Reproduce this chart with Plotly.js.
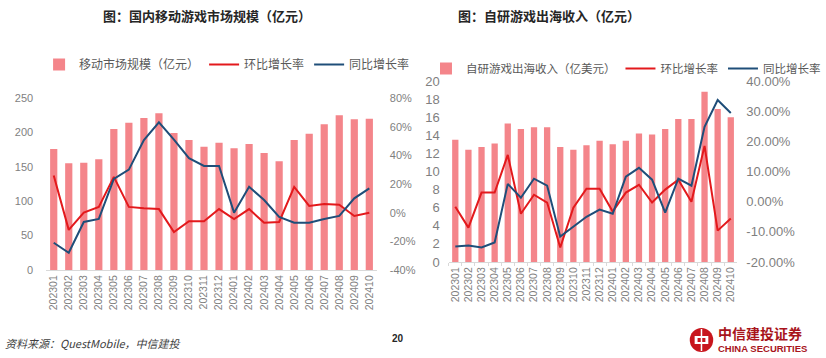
<!DOCTYPE html>
<html><head><meta charset="utf-8">
<script src="https://cdn.plot.ly/plotly-3.0.1.min.js"></script>
<style>html,body{margin:0;padding:0;background:#fff}#c{width:826px;height:358px}</style>
</head><body><div id="c"></div>
<script>
const months = ['202301','202302','202303','202304','202305','202306','202307','202308','202309','202310','202311','202312','202401','202402','202403','202404','202405','202406','202407','202408','202409','202410'];
// Left chart: domestic mobile game market (亿元), MoM %, YoY %
const marketSize = [176,155,156,161,205,214,221,228,199,189,179,185,177,183,170,158,189,198,212,225,219,220];
const marketMoM = [26,-12,0,4,25,4,3,2.5,-13.5,-6,-6,2.5,-4.4,2.5,-7,-6.5,18,4.7,6,5.5,-2.3,0];
const marketYoY = [-21,-28,-6.5,-4.4,23.5,30,50.7,63,51,38,32.6,32.6,0,18,8.8,-3,-7,-7,-4.4,-2.3,10,17];
// Right chart: self-developed games overseas revenue (亿美元), MoM %, YoY %
const overseasRev = [13.5,12.4,12.7,13.1,15.3,14.7,14.9,14.9,12.7,12.4,12.9,13.4,13.0,13.4,14.2,14.1,14.7,15.8,15.8,18.8,16.9,16.0];
const overseasMoM = [-1.7,-8.6,3,3,15.5,-4,2.3,-0.3,-15.2,-2,4.3,4.3,-3.3,3,5.6,-0.3,4,7.3,0,18.5,-9.6,-5.6];
const overseasYoY = [-14.9,-14.5,-15.2,-13.5,5.9,1.3,7.6,5.3,-11.6,-8.3,-5,-2.6,-4,8.3,11.2,7.3,-3.6,7.6,5.3,24.8,33.7,29.4];

const leftTicksPct = [-40,-20,0,20,40,60,80];
const rightTicksPct = [-20,-10,0,10,20,30,40];

const barColor = '#F4858A';
const redColor = '#E3191C';
const blueColor = '#1F4E79';
const tickFont = {family:'Liberation Sans, Arial, sans-serif', size:11, color:'#7f7f7f'};
const legFont = {family:'Noto Sans CJK SC, sans-serif', size:12, color:'#595959'};

const data = [
  {type:'bar', x:months, y:marketSize, xaxis:'x', yaxis:'y', marker:{color:barColor}, name:'移动市场规模（亿元）', legend:'legend'},
  {type:'scatter', mode:'lines', x:months, y:marketMoM, xaxis:'x', yaxis:'y2', line:{color:redColor,width:2}, name:'环比增长率', legend:'legend'},
  {type:'scatter', mode:'lines', x:months, y:marketYoY, xaxis:'x', yaxis:'y2', line:{color:blueColor,width:2}, name:'同比增长率', legend:'legend'},
  {type:'bar', x:months, y:overseasRev, xaxis:'x2', yaxis:'y3', marker:{color:barColor}, name:'自研游戏出海收入（亿美元）', legend:'legend2'},
  {type:'scatter', mode:'lines', x:months, y:overseasMoM, xaxis:'x2', yaxis:'y4', line:{color:redColor,width:2}, name:'环比增长率', legend:'legend2'},
  {type:'scatter', mode:'lines', x:months, y:overseasYoY, xaxis:'x2', yaxis:'y4', line:{color:blueColor,width:2}, name:'同比增长率', legend:'legend2'}
];

const W = 826, H = 358;
const px = v => v / W, py = v => 1 - v / H;

const xCommon = {type:'category', tickangle:-90, tickmode:'array', tickvals:months, ticktext:months,
  tickfont:{...tickFont, size:10.5}, showgrid:false, zeroline:false,
  showline:true, linecolor:'#d9d9d9', linewidth:1, ticks:'', fixedrange:true};

const layout = {
  width:W, height:H, margin:{l:0,r:0,t:0,b:0}, paper_bgcolor:'#fff', plot_bgcolor:'rgba(0,0,0,0)',
  barmode:'group', bargap:0.52, showlegend:true,
  xaxis:{...xCommon, domain:[px(47.3), px(385.7)], anchor:'y'},
  yaxis:{domain:[py(270), py(98)], range:[0,250], dtick:50, tickfont:tickFont, showgrid:false, zeroline:false, ticks:'', ticklabelstandoff:12, anchor:'x'},
  yaxis2:{overlaying:'y', side:'right', range:[-40,80], tickvals:leftTicksPct, ticktext:leftTicksPct.map(v=>v+'%'), tickfont:tickFont, showgrid:false, zeroline:false, anchor:'x', ticklabelstandoff:12},
  xaxis2:{...xCommon, domain:[px(459.3), px(754.7)], anchor:'y3', ticks:'outside', ticklen:3, tickcolor:'#d9d9d9', tickson:'boundaries', tickfont:{...tickFont, size:10.5}},
  yaxis3:{domain:[py(262), py(81)], range:[0,20], dtick:2, tickfont:{...tickFont, size:13}, showgrid:false, zeroline:false, ticks:'', anchor:'x2', ticklabelstandoff:8},
  yaxis4:{overlaying:'y3', side:'right', range:[-20,40], tickvals:rightTicksPct, ticktext:rightTicksPct.map(v=>v.toFixed(2)+'%'), tickfont:{...tickFont, size:13}, showgrid:false, zeroline:false, anchor:'x2', ticklabelstandoff:8},
  legend:{orientation:'h', x:px(40), y:py(50), xanchor:'left', yanchor:'top', font:legFont, bgcolor:'rgba(0,0,0,0)', itemwidth:30, tracegroupgap:0, traceorder:'normal'},
  legend2:{orientation:'h', x:px(436), y:py(54), xanchor:'left', yanchor:'top', font:{...legFont, size:11.5}, bgcolor:'rgba(0,0,0,0)', itemwidth:30, traceorder:'normal'},
  annotations:[
    {text:'<b>图：国内移动游戏市场规模（亿元）</b>', x:px(212), y:py(15), xref:'paper', yref:'paper', xanchor:'center', yanchor:'middle', showarrow:false, font:{family:'Noto Sans CJK SC, sans-serif', size:13, color:'#262626'}},
    {text:'<b>图：自研游戏出海收入（亿元）</b>', x:px(562), y:py(15), xref:'paper', yref:'paper', xanchor:'center', yanchor:'middle', showarrow:false, font:{family:'Noto Sans CJK SC, sans-serif', size:13, color:'#262626'}},
    {text:'<i>资料来源：QuestMobile，中信建投</i>', x:px(3), y:py(343), xref:'paper', yref:'paper', xanchor:'left', yanchor:'middle', showarrow:false, font:{family:'Noto Sans CJK SC, sans-serif', size:11, color:'#404040'}},
    {text:'<b>20</b>', x:px(407), y:py(338), xref:'paper', yref:'paper', xanchor:'center', yanchor:'middle', showarrow:false, font:{family:'Liberation Sans Narrow, Arial, sans-serif', size:10, color:'#262626'}},
    {text:'<b>中信建投证券</b>', x:px(733), y:py(333), xref:'paper', yref:'paper', xanchor:'left', yanchor:'middle', showarrow:false, font:{family:'Noto Sans CJK SC, sans-serif', size:14, color:'#a8141b'}},
    {text:'<b>CHINA SECURITIES</b>', x:px(733), y:py(348), xref:'paper', yref:'paper', xanchor:'left', yanchor:'middle', showarrow:false, font:{family:'Liberation Sans Narrow, Arial, sans-serif', size:9.5, color:'#a8141b'}}
  ],
  shapes:[
    {type:'circle', xref:'paper', yref:'paper', x0:px(706), x1:px(730), y0:py(352), y1:py(328), fillcolor:'#c8161d', line:{width:0}},
    {type:'rect', xref:'paper', yref:'paper', x0:px(711), x1:px(725), y0:py(344), y1:py(336), fillcolor:'#fff', line:{width:0}},
    {type:'rect', xref:'paper', yref:'paper', x0:px(714), x1:px(722), y0:py(342), y1:py(338), fillcolor:'#c8161d', line:{width:0}},
    {type:'line', xref:'paper', yref:'paper', x0:px(718), x1:px(718), y0:py(351), y1:py(329), line:{color:'#fff', width:1.5}}
  ]
};

Plotly.newPlot('c', data, layout, {staticPlot:true, displayModeBar:false});
</script></body></html>
